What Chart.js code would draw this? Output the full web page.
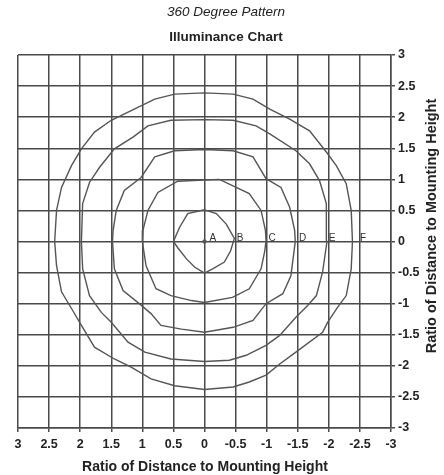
<!DOCTYPE html>
<html>
<head>
<meta charset="utf-8">
<title>Illuminance Chart</title>
<script src="https://cdn.jsdelivr.net/npm/chart.js@4"></script>
<style>
  html, body { margin: 0; padding: 0; background: #fff; }
  canvas { display: block; }
</style>
</head>
<body>
<canvas id="myChart" width="444" height="475"></canvas>
<script>
// contour points, [x, y] in ratio units
const contourB = [[0,0.51],[0.27,0.45],[0.40,0.23],[0.50,0],[0.43,-0.10],[0.29,-0.28],[0.16,-0.41],[0,-0.51],
  [-0.13,-0.44],[-0.32,-0.33],[-0.42,-0.15],[-0.48,0.05],[-0.35,0.28],[-0.19,0.45],[0,0.51]];
const contourC = [[0,0.99],[0.43,0.97],[0.75,0.79],[0.91,0.50],[0.99,0.18],[1.00,0],[0.94,-0.39],[0.78,-0.76],
  [0.54,-0.87],[0.21,-0.95],[0,-0.98],[-0.45,-0.90],[-0.72,-0.76],[-0.91,-0.44],[-0.97,-0.15],[-0.99,0.02],
  [-0.98,0.18],[-0.91,0.50],[-0.72,0.77],[-0.24,1.00],[0,0.99]];
const contourD = [[0,1.48],[0.48,1.46],[0.80,1.36],[1.02,1.03],[1.29,0.82],[1.42,0.50],[1.47,0.18],[1.48,0],
  [1.45,-0.44],[1.31,-0.79],[1.05,-1.00],[0.86,-1.16],[0.70,-1.35],[0.37,-1.41],[0,-1.46],[-0.46,-1.38],
  [-0.78,-1.27],[-0.99,-1.00],[-1.26,-0.84],[-1.39,-0.55],[-1.46,0],[-1.45,0.18],[-1.37,0.55],[-1.23,0.87],
  [-0.99,1.01],[-0.78,1.36],[-0.46,1.46],[0,1.48]];
const contourE = [[0,1.96],[0.54,1.95],[0.91,1.86],[1.15,1.68],[1.45,1.49],[1.69,1.19],[1.85,0.95],[1.96,0.61],
  [1.98,0],[1.96,-0.44],[1.85,-0.87],[1.66,-1.14],[1.50,-1.30],[1.23,-1.62],[0.96,-1.78],[0.54,-1.89],[0,-1.93],
  [-0.40,-1.91],[-0.67,-1.83],[-0.99,-1.67],[-1.21,-1.51],[-1.47,-1.22],[-1.66,-1.03],[-1.80,-0.87],[-1.90,-0.49],
  [-1.97,0],[-1.96,0.61],[-1.85,0.98],[-1.69,1.25],[-1.47,1.46],[-1.05,1.73],[-0.83,1.86],[-0.46,1.95],[0,1.96]];
const contourF = [[0,2.39],[0.48,2.37],[0.80,2.29],[1.13,2.13],[1.50,1.95],[1.77,1.76],[1.98,1.49],[2.14,1.22],
  [2.30,0.87],[2.38,0.50],[2.41,0],[2.38,-0.39],[2.30,-0.81],[2.12,-1.11],[1.98,-1.35],[1.77,-1.70],[1.45,-1.89],
  [1.18,-2.02],[0.86,-2.21],[0.48,-2.32],[0,-2.38],[-0.46,-2.34],[-0.72,-2.26],[-0.99,-2.15],[-1.21,-1.97],
  [-1.47,-1.78],[-1.90,-1.46],[-1.98,-1.30],[-2.14,-1.06],[-2.28,-0.87],[-2.36,-0.44],[-2.38,0],[-2.36,0.50],
  [-2.28,0.93],[-2.12,1.22],[-1.96,1.44],[-1.69,1.78],[-1.37,1.97],[-1.05,2.13],[-0.78,2.29],[-0.46,2.37],[0,2.39]];
const pointA = [[0, 0]];

// contour letters along the x axis
const letterNames = ["A", "B", "C", "D", "E", "F"];
const letterX = [-0.08, -0.52, -1.03, -1.52, -2.0, -2.5];
const letterY = [0.06, 0.06, 0.06, 0.06, 0.06, 0.06];

const axisMin = -3, axisMax = 3, axisStep = 0.5;

function toPoints(arr) {
  return arr.map(p => ({ x: p[0], y: p[1] }));
}
// 3 -> "3", 2.5 -> "2.5", -0 -> "0"
function tickText(v) {
  let r = Math.round(v * 10) / 10;
  if (r === 0) r = 0;
  return String(r);
}

const lineColor = "#555";
const gridColor = "#4a4a4a";
const fontFam = "'Liberation Sans', Arial, sans-serif";

const contours = [contourB, contourC, contourD, contourE, contourF];
const datasets = contours.map(c => ({
  data: toPoints(c),
  showLine: true,
  borderColor: lineColor,
  borderWidth: 1.4,
  pointRadius: 0,
  tension: 0,
  fill: false,
}));
datasets.push({
  data: toPoints(pointA),
  showLine: false,
  pointRadius: 1.8,
  backgroundColor: lineColor,
  borderColor: lineColor,
});

// titles, axis titles and letters
const textPlugin = {
  id: "texts",
  afterDraw(chart) {
    const ctx = chart.ctx;
    const xs = chart.scales.x, ys = chart.scales.y;
    ctx.save();
    ctx.fillStyle = "#222";
    ctx.textAlign = "center";
    ctx.textBaseline = "middle";
    ctx.font = "italic 13.5px " + fontFam;
    ctx.fillText("360 Degree Pattern", 226, 12);
    ctx.font = "bold 13.5px " + fontFam;
    ctx.fillText("Illuminance Chart", 226, 37);

    ctx.font = "bold 14px " + fontFam;
    ctx.fillText("Ratio of Distance to Mounting Height", 205, 467);
    ctx.translate(432, 226);
    ctx.rotate(-Math.PI / 2);
    ctx.font = "bold 14.5px " + fontFam;
    ctx.fillText("Ratio of Distance to Mounting Height", 0, 0);
    ctx.restore();

    ctx.save();
    ctx.fillStyle = "#333";
    ctx.font = "10px " + fontFam;
    ctx.textAlign = "left";
    ctx.textBaseline = "middle";
    for (let i = 0; i < letterNames.length; i++) {
      ctx.fillText(letterNames[i], xs.getPixelForValue(letterX[i]), ys.getPixelForValue(letterY[i]));
    }
    ctx.restore();
  },
};

new Chart(document.getElementById("myChart"), {
  type: "scatter",
  data: { datasets: datasets },
  plugins: [textPlugin],
  options: {
    responsive: false,
    animation: false,
    devicePixelRatio: 1,
    layout: { padding: { left: 18, top: 55, right: 0, bottom: 0 } },
    plugins: { legend: { display: false }, tooltip: { enabled: false } },
    scales: {
      x: {
        type: "linear",
        reverse: true,
        min: axisMin,
        max: axisMax,
        afterFit(scale) { scale.height = 47; },
        grid: { color: gridColor, lineWidth: 1.5, tickLength: 4 },
        border: { color: gridColor, width: 1.5 },
        ticks: {
          stepSize: axisStep,
          autoSkip: false,
          maxRotation: 0,
          padding: 5,
          color: "#222",
          font: { family: fontFam, size: 12.5, weight: "bold" },
          callback: tickText,
        },
      },
      y: {
        type: "linear",
        position: "right",
        min: axisMin,
        max: axisMax,
        afterFit(scale) { scale.width = 53; },
        grid: { color: gridColor, lineWidth: 1.5, tickLength: 4 },
        border: { color: gridColor, width: 1.5 },
        ticks: {
          stepSize: axisStep,
          autoSkip: false,
          padding: 3,
          color: "#222",
          font: { family: fontFam, size: 12.5, weight: "bold" },
          callback: tickText,
        },
      },
    },
  },
});
</script>
</body>
</html>
